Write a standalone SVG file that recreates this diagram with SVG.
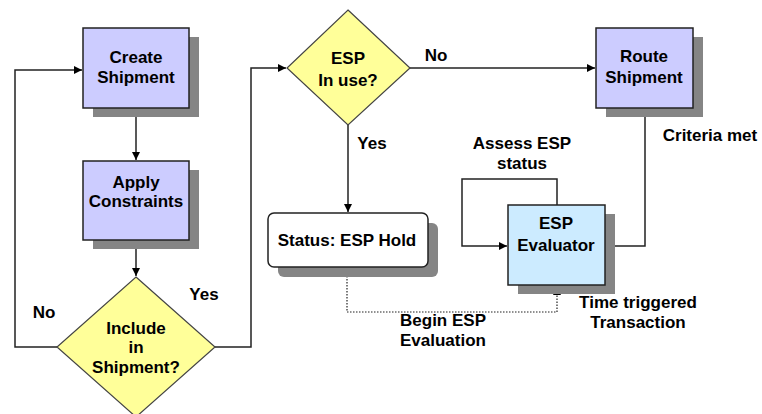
<svg xmlns="http://www.w3.org/2000/svg" width="762" height="414" viewBox="0 0 762 414">
<style>
.t{font-family:"Liberation Sans",Arial,sans-serif;font-weight:bold;font-size:17px;fill:#000;text-anchor:middle}
.box{fill:#CCCCFF;stroke:#222;stroke-width:1.5}
.eval{fill:#CCEBFF;stroke:#222;stroke-width:1.5}
.dia{fill:#FFFF99;stroke:#444;stroke-width:1.2}
.sh{fill:#858585}
.ln{fill:none;stroke:#222;stroke-width:1.5}
.dot{fill:none;stroke:#222;stroke-width:1.2;stroke-dasharray:1.5 1.5}
</style>
<defs>
<marker id="ah" viewBox="0 0 10 10" refX="10" refY="5" markerWidth="8" markerHeight="8" markerUnits="userSpaceOnUse" orient="auto">
<path d="M0,0 L10,5 L0,10 z" fill="#000"/>
</marker>
</defs>
<rect width="762" height="414" fill="#fff"/>
<g id="connectors">
<path class="ln" d="M136,108 V160" marker-end="url(#ah)"/>
<path class="ln" d="M136,240 V276" marker-end="url(#ah)"/>
<path class="ln" d="M57,347 H15 V70 H82" marker-end="url(#ah)"/>
<path class="ln" d="M215,347 H251 V68 H286" marker-end="url(#ah)"/>
<path class="ln" d="M410,68 H595" marker-end="url(#ah)"/>
<path class="ln" d="M348,125 V212" marker-end="url(#ah)"/>
<path class="dot" d="M347,267 V312 H557 V287" marker-end="url(#ah)"/>
<path class="ln" d="M557,205 V179 H462 V246 H507" marker-end="url(#ah)"/>
<path class="ln" d="M605,246 H645 V109" marker-end="url(#ah)"/>
</g>
<g id="create">
<rect class="sh" x="93" y="37" width="106" height="80"/>
<rect class="box" x="83" y="28" width="106" height="80"/>
<text class="t" x="136" y="63">Create</text>
<text class="t" x="136" y="83">Shipment</text>
</g>
<g id="apply">
<rect class="sh" x="93" y="170" width="106" height="79"/>
<rect class="box" x="83" y="161" width="106" height="79"/>
<text class="t" x="136" y="188">Apply</text>
<text class="t" x="136" y="207">Constraints</text>
</g>
<g id="include">
<polygon class="dia" points="136,277 215,347 136,417 57,347"/>
<text class="t" x="136" y="334">Include</text>
<text class="t" x="136" y="353">in</text>
<text class="t" x="136" y="373">Shipment?</text>
</g>
<g id="espinuse">
<polygon class="dia" points="348,10 410,68 348,125 287,68"/>
<text class="t" x="348" y="64">ESP</text>
<text class="t" x="348" y="86">In use?</text>
</g>
<g id="route">
<rect class="sh" x="606" y="37" width="97" height="80"/>
<rect class="box" x="596" y="28" width="97" height="80"/>
<text class="t" x="644" y="62">Route</text>
<text class="t" x="644" y="83">Shipment</text>
</g>
<g id="status">
<rect class="sh" x="278" y="223" width="160" height="54" rx="6"/>
<rect x="268" y="213" width="160" height="54" rx="6" fill="#fff" stroke="#222" stroke-width="1.5"/>
<text class="t" x="347" y="246">Status: ESP Hold</text>
</g>
<g id="evaluator">
<rect class="sh" x="518" y="214" width="97" height="80"/>
<rect class="eval" x="508" y="205" width="97" height="80"/>
<text class="t" x="556" y="229">ESP</text>
<text class="t" x="556" y="251">Evaluator</text>
</g>
<g id="labels">
<text class="t" x="44" y="318">No</text>
<text class="t" x="204" y="300">Yes</text>
<text class="t" x="436" y="61">No</text>
<text class="t" x="372" y="149">Yes</text>
<text class="t" x="522" y="149">Assess ESP</text>
<text class="t" x="522" y="169">status</text>
<text class="t" x="710" y="141">Criteria met</text>
<text class="t" x="638" y="308">Time triggered</text>
<text class="t" x="638" y="328">Transaction</text>
<text class="t" x="443" y="326">Begin ESP</text>
<text class="t" x="443" y="346">Evaluation</text>
</g>
</svg>
